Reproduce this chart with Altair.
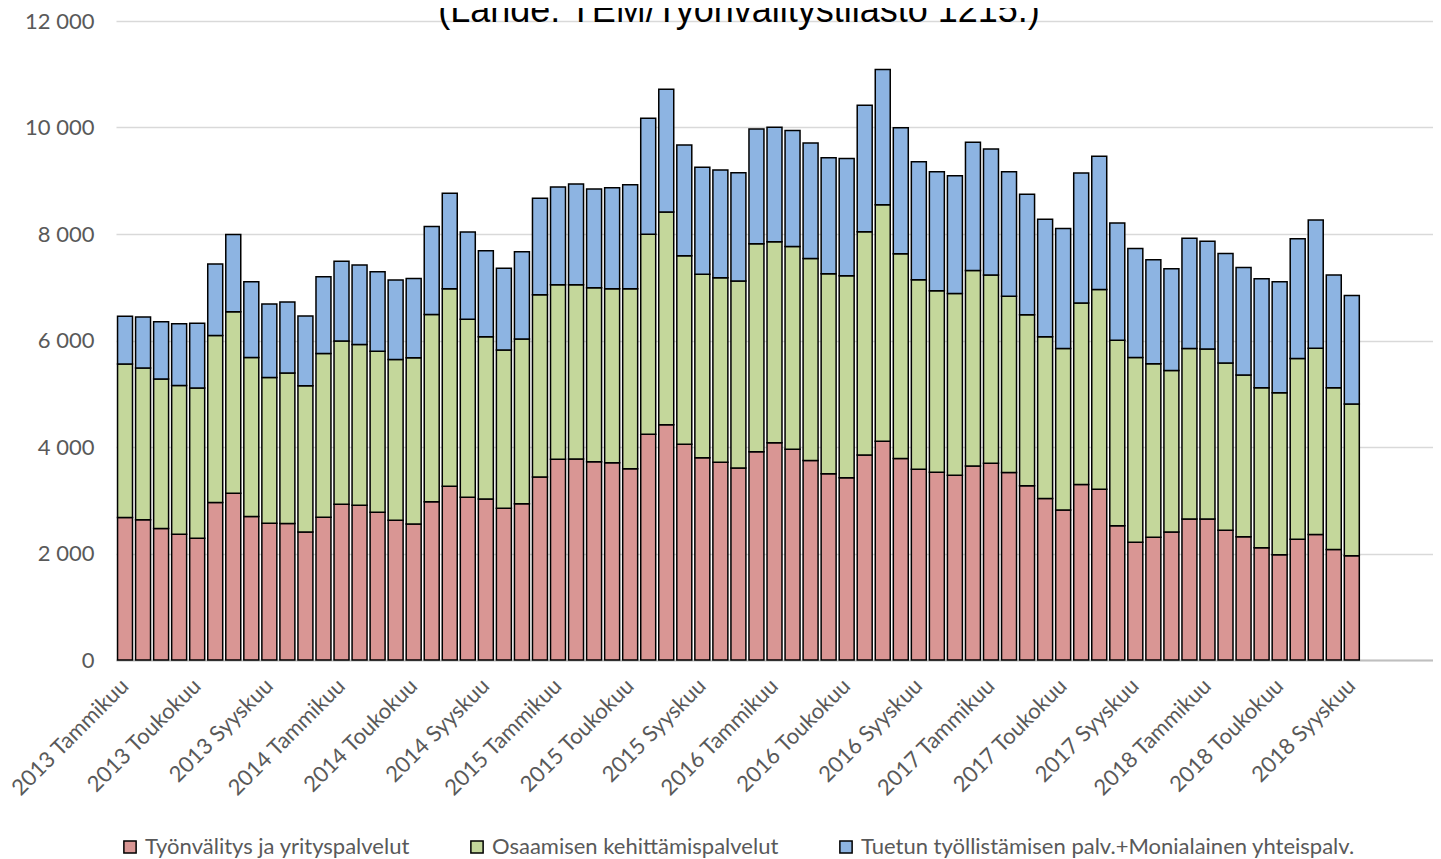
import altair as alt
import pandas as pd

years = [2013, 2014, 2015, 2016, 2017, 2018]
month_names = ["Tammikuu", "Helmikuu", "Maaliskuu", "Huhtikuu", "Toukokuu", "Kesäkuu",
               "Heinäkuu", "Elokuu", "Syyskuu", "Lokakuu", "Marraskuu", "Joulukuu"]
months = [f"{y} {m}" for y in years for m in month_names][:69]

series = ["Työnvälitys ja yrityspalvelut",
          "Osaamisen kehittämispalvelut",
          "Tuetun työllistämisen palv.+Monialainen yhteispalv."]
colors = ["#D99694", "#C4D79B", "#8DB4E2"]

tyonvalitys = [2675, 2632, 2469, 2362, 2287, 2957, 3133, 2694, 2569, 2563, 2406, 2682,
               2926, 2907, 2776, 2625, 2556, 2970, 3261, 3055, 3023, 2848, 2936, 3437,
               3768, 3775, 3725, 3706, 3593, 4238, 4419, 4050, 3800, 3712, 3606, 3910,
               4078, 3958, 3747, 3498, 3423, 3852, 4109, 3784, 3581, 3528, 3468, 3641,
               3694, 3521, 3272, 3031, 2818, 3295, 3205, 2520, 2210, 2307, 2404, 2649,
               2649, 2436, 2313, 2107, 1977, 2268, 2359, 2074, 1958]
osaaminen = [2883, 2850, 2807, 2795, 2820, 3139, 3408, 2989, 2738, 2825, 2744, 3076,
             3064, 3020, 3020, 3020, 3121, 3518, 3712, 3342, 3049, 2974, 3092, 3424,
             3281, 3274, 3267, 3267, 3380, 3756, 3994, 3543, 3443, 3468, 3511, 3905,
             3777, 3807, 3792, 3754, 3792, 4192, 4440, 3845, 3558, 3408, 3415, 3672,
             3536, 3309, 3211, 3038, 3031, 3410, 3755, 3483, 3470, 3257, 3031, 3199,
             3193, 3141, 3038, 3004, 3044, 3393, 3496, 3037, 2850]
tuettu = [896, 959, 1077, 1159, 1215, 1341, 1448, 1422, 1378, 1335, 1310, 1441,
          1497, 1492, 1497, 1492, 1485, 1654, 1791, 1641, 1615, 1533, 1640, 1809,
          1834, 1890, 1853, 1897, 1953, 2179, 2304, 2078, 2009, 2022, 2035, 2159,
          2149, 2178, 2171, 2179, 2201, 2374, 2540, 2367, 2216, 2231, 2209, 2412,
          2367, 2337, 2262, 2208, 2255, 2442, 2501, 2204, 2049, 1951, 1912, 2074,
          2022, 2055, 2022, 2049, 2081, 2249, 2410, 2120, 2035]

tick_labels = months[::4]
blank_slots = ["~1", "~2", "~3", "~4"]
x_domain = months + blank_slots
title_text = "(Lähde: TEM/Työnvälitystilasto 1215.)"

rows = []
for i, m in enumerate(months):
    for k, (s, vals) in enumerate(zip(series, [tyonvalitys, osaaminen, tuettu])):
        rows.append({"kuukausi": m, "sarja": s, "jarjestys": k, "arvo": vals[i]})
df = pd.DataFrame(rows)

bars = alt.Chart(df).mark_bar(stroke="black", strokeWidth=1.5).encode(
    x=alt.X("kuukausi:N",
            scale=alt.Scale(domain=x_domain, paddingInner=0.17, paddingOuter=0.085),
            axis=alt.Axis(values=tick_labels, title=None, labelAngle=-45,
                          labelAlign="right", labelBaseline="middle", ticks=False,
                          labelFont="Lato", labelFontSize=22, labelColor="#595959",
                          domainColor="#BFBFBF", domainWidth=2, labelPadding=22,
                          grid=False, labelOverlap=False)),
    y=alt.Y("arvo:Q", stack="zero",
            scale=alt.Scale(domain=[0, 12000], nice=False),
            axis=alt.Axis(values=list(range(0, 12001, 2000)), title=None,
                          labelExpr="replace(format(datum.value, ','), ',', ' ')",
                          labelFont="Lato", labelFontSize=22, labelColor="#595959",
                          ticks=False, domain=False, labelPadding=22,
                          gridColor="#D9D9D9", gridWidth=1.5)),
    color=alt.Color("sarja:N", scale=alt.Scale(domain=series, range=colors),
                    legend=alt.Legend(title=None, orient="none", legendX=3, legendY=815,
                                      direction="horizontal", columns=3,
                                      symbolType="square", symbolSize=150,
                                      symbolStrokeColor="black", symbolStrokeWidth=1.5,
                                      labelFont="Lato", labelFontSize=22,
                                      labelColor="#595959", columnPadding=56,
                                      labelOffset=4, padding=0, labelLimit=0)),
    order=alt.Order("jarjestys:Q"),
)

title_df = pd.DataFrame({"t": [title_text]})
title = alt.Chart(title_df).mark_text(font="Liberation Sans", fontSize=36, color="black",
                                      align="center", baseline="alphabetic").encode(
    x=alt.value(623), y=alt.value(1), text="t:N")

chart = alt.layer(bars, title).properties(
    width=1317, height=639,
    padding={"left": 108, "top": 13, "right": 0, "bottom": 199},
    autosize=alt.AutoSizeParams(type="none"),
).configure_view(stroke=None)

chart.save("out.html", embed_options={"renderer": "svg", "actions": False})
